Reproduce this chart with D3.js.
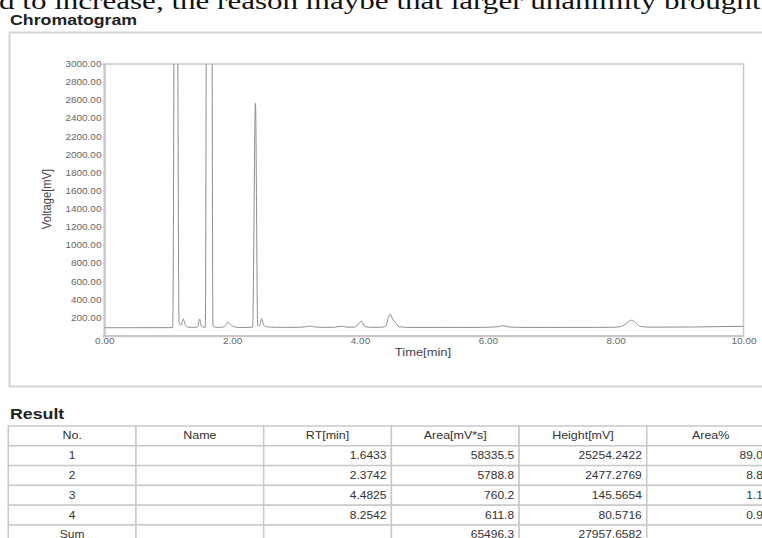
<!DOCTYPE html>
<html>
<head>
<meta charset="utf-8">
<script src="https://cdn.jsdelivr.net/npm/d3@7"></script>
<style>
  html, body { margin: 0; padding: 0; background: #fff; }
  svg { display: block; }
</style>
</head>
<body>
<div id="chart"></div>
<script>
// chromatogram trace: time [min] and signal [mV]
const traceTime = [0.00, 0.40, 0.80, 1.00, 1.07, 1.12, 1.17, 1.20, 1.235, 1.27, 1.31, 1.36, 1.42, 1.46, 1.49, 1.52, 1.56, 1.58,
                   1.6433, 1.70, 1.75, 1.82, 1.88, 1.94, 1.99, 2.05, 2.12, 2.20, 2.27, 2.32, 2.365, 2.40, 2.43, 2.46, 2.49,
                   2.53, 2.60, 2.70, 2.85, 3.00, 3.15, 3.22, 3.30, 3.45, 3.60, 3.71, 3.80, 3.92, 4.02, 4.08, 4.20, 4.32,
                   4.40, 4.47, 4.51, 4.55, 4.61, 4.75, 5.00, 5.30, 5.60, 5.90, 6.15, 6.24, 6.33, 6.50, 6.90, 7.30, 7.70,
                   8.00, 8.11, 8.19, 8.25, 8.31, 8.375, 8.50, 8.80, 9.20, 9.60, 10.00];
const traceVolt = [88, 88, 89, 89, 90, 9000, 150, 115, 185, 115, 95, 92, 93, 96, 185, 105, 93, 95,
                   25344, 105, 93, 92, 100, 148, 112, 96, 90, 90, 92, 95, 2567, 115, 110, 188, 125,
                   100, 95, 93, 92, 93, 98, 107, 96, 92, 93, 106, 94, 95, 158, 100, 92, 93,
                   105, 240, 185, 150, 100, 92, 91, 92, 91, 92, 98, 110, 97, 92, 91, 92, 92,
                   94, 108, 150, 171, 148, 105, 95, 95, 96, 100, 104];

const xTicks = [0, 2, 4, 6, 8, 10];
const yTicks = [200, 400, 600, 800, 1000, 1200, 1400, 1600, 1800, 2000, 2200, 2400, 2600, 2800, 3000];

// result table
const tableHeader = ['No.', 'Name', 'RT[min]', 'Area[mV*s]', 'Height[mV]', 'Area%'];
const peakNo = ['1', '2', '3', '4', 'Sum'];
const peakName = ['', '', '', '', ''];
const peakRT = ['1.6433', '2.3742', '4.4825', '8.2542', ''];
const peakArea = ['58335.5', '5788.8', '760.2', '611.8', '65496.3'];
const peakHeight = ['25254.2422', '2477.2769', '145.5654', '80.5716', '27957.6582'];
const peakAreaPct = ['89.07', '8.84', '1.16', '0.93', ''];

const width = 762, height = 538;
const SX = 1.2;   // the scan is stretched sideways, text follows it
const sans = 'Liberation Sans, Arial, sans-serif';
const grid = '#c9c9c9';

const svg = d3.select('#chart')
              .append('svg')
              .attr('width', width)
              .attr('height', height);

function label(str, x, y, opts) {
  const o = opts || {};
  const sx = o.sx || SX;
  return svg.append('text')
            .attr('transform', `translate(${x},${y}) ${o.rotate ? 'rotate(-90) scale(1,' + sx + ')' : 'scale(' + sx + ',1)'}`)
            .attr('text-anchor', o.anchor || 'start')
            .style('font-family', o.family || sans)
            .style('font-size', (o.size || 10) + 'px')
            .style('font-weight', o.bold ? 'bold' : 'normal')
            .style('fill', o.color || '#333')
            .text(str);
}

// leftover line of the page above the figure
label('d to increase, the reason maybe that larger unanimity brought', -1, 9,
      {family: 'Liberation Serif, Times New Roman, serif', size: 22.5, sx: 1.38, color: '#111'});

label('Chromatogram', 10, 25, {size: 14.8, bold: true, color: '#222'});

// panel box
svg.append('rect')
   .attr('x', 9.5).attr('y', 32.5)
   .attr('width', 780).attr('height', 354)
   .attr('fill', 'none')
   .attr('stroke', '#d6d6d6')
   .attr('stroke-width', 2);

const xScale = d3.scaleLinear().domain([0, 10]).range([104.3, 743.5]);
const yScale = d3.scaleLinear().domain([0, 3000]).range([335.7, 64]);

// plot frame
svg.append('rect')
   .attr('x', xScale(0)).attr('y', yScale(3000))
   .attr('width', xScale(10) - xScale(0))
   .attr('height', yScale(0) - yScale(3000))
   .attr('fill', 'none')
   .attr('stroke', grid)
   .attr('stroke-width', 1.5);

const yAxis = svg.append('g')
                 .attr('class', 'axis axis-y')
                 .attr('transform', `translate(${xScale(0)},0)`)
                 .call(d3.axisLeft(yScale)
                         .tickValues(yTicks)
                         .tickFormat(d3.format('.2f'))
                         .tickSize(2)
                         .tickPadding(0.4));

const xAxis = svg.append('g')
                 .attr('class', 'axis axis-x')
                 .attr('transform', `translate(0,${yScale(0)})`)
                 .call(d3.axisBottom(xScale)
                         .tickValues(xTicks)
                         .tickFormat(d3.format('.2f'))
                         .tickSize(0)
                         .tickPadding(2.6));

svg.selectAll('.axis .domain')
   .attr('stroke', grid)
   .attr('stroke-width', 2);
svg.selectAll('.axis .tick line')
   .attr('stroke', grid);
svg.selectAll('.axis text')
   .attr('transform', `scale(${SX},1)`)
   .style('font-family', sans)
   .style('font-size', '8.3px')
   .style('fill', '#666');

label('Time[min]', 423, 355.5, {size: 10.8, anchor: 'middle', color: '#444'});
label('Voltage[mV]', 51, 199, {size: 11.2, anchor: 'middle', color: '#444', rotate: true});

// trace, clipped to the frame like the instrument does
svg.append('clipPath')
   .attr('id', 'plot-clip')
   .append('rect')
   .attr('x', xScale(0)).attr('y', yScale(3000))
   .attr('width', xScale(10) - xScale(0))
   .attr('height', yScale(0) - yScale(3000));

const trace = traceTime.map((t, i) => ({t: t, v: traceVolt[i]}));
const line = d3.line()
               .x(d => xScale(d.t))
               .y(d => yScale(d.v))
               .curve(d3.curveMonotoneX);

svg.append('path')
   .datum(trace)
   .attr('clip-path', 'url(#plot-clip)')
   .attr('d', line)
   .attr('fill', 'none')
   .attr('stroke', '#8e8e8e')
   .attr('stroke-width', 1);

// result table
label('Result', 10, 419, {size: 14.8, bold: true, color: '#222'});

const columns = [peakNo, peakName, peakRT, peakArea, peakHeight, peakAreaPct];
const colX = d3.scaleLinear().domain([0, tableHeader.length]).range([8.3, 774.5]);
const rowY = d3.scaleLinear().domain([0, peakNo.length + 1]).range([426, 544.8]);

const cells = [];
tableHeader.forEach((h, c) => {
  cells.push({row: 0, col: c, text: h, head: true});
  columns[c].forEach((v, r) => cells.push({row: r + 1, col: c, text: v, head: false}));
});

svg.append('g')
   .attr('class', 'cells')
   .selectAll('rect')
   .data(cells)
   .enter()
   .append('rect')
   .attr('x', d => colX(d.col))
   .attr('y', d => rowY(d.row))
   .attr('width', d => colX(d.col + 1) - colX(d.col))
   .attr('height', d => rowY(d.row + 1) - rowY(d.row))
   .attr('fill', '#fff')
   .attr('stroke', grid)
   .attr('stroke-width', 1.5);

svg.append('g')
   .attr('class', 'cell-text')
   .selectAll('text')
   .data(cells.filter(d => d.text !== ''))
   .enter()
   .append('text')
   .attr('transform', d => {
     const centred = d.head || d.col < 2;
     const x = centred ? (colX(d.col) + colX(d.col + 1)) / 2 : colX(d.col + 1) - 5;
     return `translate(${x},${rowY(d.row) + 13.4}) scale(${SX},1)`;
   })
   .attr('text-anchor', d => (d.head || d.col < 2) ? 'middle' : 'end')
   .style('font-family', sans)
   .style('font-size', d => d.head ? '10.4px' : '10px')
   .style('fill', '#333')
   .text(d => d.text);
</script>
</body>
</html>
